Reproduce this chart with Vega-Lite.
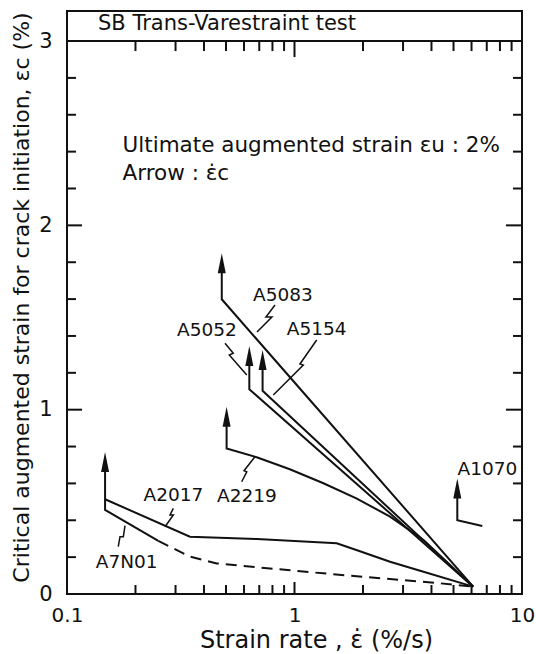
{
  "$schema": "https://vega.github.io/schema/vega-lite/v6.json",
  "width": 455,
  "height": 583,
  "autosize": {"type": "none"},
  "padding": {"left": 67, "top": 11, "right": 14, "bottom": 60},
  "config": {
    "font": "DejaVu Sans",
    "view": {"stroke": "#111", "strokeWidth": 2},
    "axis": {"labelColor": "#111", "titleColor": "#111", "grid": false, "labelFont": "DejaVu Sans", "titleFont": "DejaVu Sans", "titleFontWeight": "normal", "domain": false, "ticks": false, "tickSize": 0}
  },
  "datasets": {
    "curves": [
      {"series": "A5083", "i": 1, "x": 0.479, "y": 1.794},
      {"series": "A5083", "i": 2, "x": 0.479, "y": 1.599},
      {"series": "A5083", "i": 3, "x": 6.1, "y": 0.04},
      {"series": "A5052", "i": 1, "x": 0.633, "y": 1.291},
      {"series": "A5052", "i": 2, "x": 0.633, "y": 1.111},
      {"series": "A5052", "i": 3, "x": 6.1, "y": 0.04},
      {"series": "A5154", "i": 1, "x": 0.724, "y": 1.269},
      {"series": "A5154", "i": 2, "x": 0.724, "y": 1.103},
      {"series": "A5154", "i": 3, "x": 6.1, "y": 0.04},
      {"series": "A2219", "i": 1, "x": 0.503, "y": 0.962},
      {"series": "A2219", "i": 2, "x": 0.503, "y": 0.79},
      {"series": "A2219", "i": 3, "x": 0.682, "y": 0.742},
      {"series": "A2219", "i": 4, "x": 0.954, "y": 0.677},
      {"series": "A2219", "i": 5, "x": 1.34, "y": 0.601},
      {"series": "A2219", "i": 6, "x": 1.87, "y": 0.519},
      {"series": "A2219", "i": 7, "x": 2.63, "y": 0.42},
      {"series": "A2219", "i": 8, "x": 3.69, "y": 0.293},
      {"series": "A2219", "i": 9, "x": 6.1, "y": 0.04},
      {"series": "A2017", "i": 1, "x": 0.147, "y": 0.514},
      {"series": "A2017", "i": 2, "x": 0.347, "y": 0.311},
      {"series": "A2017", "i": 3, "x": 0.684, "y": 0.298},
      {"series": "A2017", "i": 4, "x": 1.533, "y": 0.275},
      {"series": "A2017", "i": 5, "x": 1.87, "y": 0.239},
      {"series": "A2017", "i": 6, "x": 2.63, "y": 0.175},
      {"series": "A2017", "i": 7, "x": 3.69, "y": 0.121},
      {"series": "A2017", "i": 8, "x": 6.1, "y": 0.04},
      {"series": "A7N01", "i": 1, "x": 0.147, "y": 0.716},
      {"series": "A7N01", "i": 2, "x": 0.147, "y": 0.456},
      {"series": "A7N01", "i": 3, "x": 0.252, "y": 0.288},
      {"series": "A1070", "i": 1, "x": 5.195, "y": 0.573},
      {"series": "A1070", "i": 2, "x": 5.195, "y": 0.4},
      {"series": "A1070", "i": 3, "x": 6.69, "y": 0.369}
    ],
    "dashed": [
      {"series": "A7N01", "i": 1, "x": 0.252, "y": 0.288},
      {"series": "A7N01", "i": 2, "x": 0.347, "y": 0.203},
      {"series": "A7N01", "i": 3, "x": 0.455, "y": 0.166},
      {"series": "A7N01", "i": 4, "x": 0.682, "y": 0.145},
      {"series": "A7N01", "i": 5, "x": 1.34, "y": 0.112},
      {"series": "A7N01", "i": 6, "x": 2.63, "y": 0.081},
      {"series": "A7N01", "i": 7, "x": 4.37, "y": 0.058},
      {"series": "A7N01", "i": 8, "x": 6.1, "y": 0.04}
    ],
    "leaders": [
      {"leader": "A5083", "i": 1, "x": 0.821, "y": 1.568},
      {"leader": "A5083", "i": 2, "x": 0.749, "y": 1.503},
      {"leader": "A5083", "i": 3, "x": 0.796, "y": 1.503},
      {"leader": "A5083", "i": 4, "x": 0.684, "y": 1.421},
      {"leader": "A5052", "i": 1, "x": 0.495, "y": 1.36},
      {"leader": "A5052", "i": 2, "x": 0.538, "y": 1.306},
      {"leader": "A5052", "i": 3, "x": 0.517, "y": 1.297},
      {"leader": "A5052", "i": 4, "x": 0.617, "y": 1.188},
      {"leader": "A5154", "i": 1, "x": 1.252, "y": 1.378},
      {"leader": "A5154", "i": 2, "x": 1.057, "y": 1.248},
      {"leader": "A5154", "i": 3, "x": 1.093, "y": 1.242},
      {"leader": "A5154", "i": 4, "x": 0.807, "y": 1.08},
      {"leader": "A2219", "i": 1, "x": 0.586, "y": 0.609},
      {"leader": "A2219", "i": 2, "x": 0.617, "y": 0.663},
      {"leader": "A2219", "i": 3, "x": 0.6, "y": 0.669},
      {"leader": "A2219", "i": 4, "x": 0.67, "y": 0.745},
      {"leader": "A2017", "i": 1, "x": 0.2934, "y": 0.465},
      {"leader": "A2017", "i": 2, "x": 0.2836, "y": 0.429},
      {"leader": "A2017", "i": 3, "x": 0.2934, "y": 0.429},
      {"leader": "A2017", "i": 4, "x": 0.2697, "y": 0.365},
      {"leader": "A7N01", "i": 1, "x": 0.168, "y": 0.257},
      {"leader": "A7N01", "i": 2, "x": 0.171, "y": 0.311},
      {"leader": "A7N01", "i": 3, "x": 0.1769, "y": 0.311},
      {"leader": "A7N01", "i": 4, "x": 0.1799, "y": 0.371}
    ],
    "heads": [
      {"series": "A5083", "x": 0.479, "y": 1.794},
      {"series": "A5052", "x": 0.633, "y": 1.291},
      {"series": "A5154", "x": 0.724, "y": 1.269},
      {"series": "A2219", "x": 0.503, "y": 0.962},
      {"series": "A2017", "x": 0.147, "y": 0.716},
      {"series": "A1070", "x": 5.195, "y": 0.573}
    ],
    "labels": [
      {"text": "A5083", "x": 0.89, "y": 1.622},
      {"text": "A5052", "x": 0.4124, "y": 1.432},
      {"text": "A5154", "x": 1.252, "y": 1.436},
      {"text": "A2219", "x": 0.618, "y": 0.532},
      {"text": "A2017", "x": 0.2934, "y": 0.537},
      {"text": "A7N01", "x": 0.183, "y": 0.175},
      {"text": "A1070", "x": 7.05, "y": 0.678}
    ],
    "notes": [
      {"text": "Ultimate augmented strain εu : 2%", "x": 0.1754, "y": 2.432},
      {"text": "Arrow : ε̇c", "x": 0.1754, "y": 2.28}
    ],
    "heading": [
      {"text": "SB Trans-Varestraint test", "x": 0.1369, "y": 3.092}
    ],
    "xminor": [{"v": 0.2}, {"v": 0.3}, {"v": 0.4}, {"v": 0.5}, {"v": 0.6}, {"v": 0.7}, {"v": 0.8}, {"v": 0.9}, {"v": 2}, {"v": 3}, {"v": 4}, {"v": 5}, {"v": 6}, {"v": 7}, {"v": 8}, {"v": 9}],
    "xmajor": [{"v": 1}],
    "yminor": [{"v": 0.2}, {"v": 0.4}, {"v": 0.6}, {"v": 0.8}, {"v": 1.2}, {"v": 1.4}, {"v": 1.6}, {"v": 1.8}, {"v": 2.2}, {"v": 2.4}, {"v": 2.6}, {"v": 2.8}],
    "ymajor": [{"v": 1}, {"v": 2}]
  },
  "layer": [
    {
      "data": {"name": "curves"},
      "mark": {"type": "line", "color": "#111", "strokeWidth": 2, "strokeJoin": "miter"},
      "encoding": {
        "x": {"field": "x", "type": "quantitative",
          "scale": {"type": "log", "domain": [0.1, 10], "nice": false},
          "axis": {"orient": "bottom", "values": [0.1, 1, 10],
            "labelExpr": "datum.value === 0.1 ? '0.1' : (datum.value === 1 ? '1' : '10')",
            "labelFontSize": 20, "labelPadding": 11, "labelFlush": false, "labelOverlap": false, "labelBound": false,
            "title": "Strain rate , ε̇  (%/s)", "titleFontSize": 24, "titleX": 249, "titleY": 46, "titleBaseline": "middle", "titleAlign": "center"}},
        "y": {"field": "y", "type": "quantitative",
          "scale": {"domain": [0, 3.163], "nice": false, "zero": false},
          "axis": {"orient": "left", "values": [0, 1, 2, 3], "format": "d",
            "labelFontSize": 21, "labelPadding": 15, "labelOverlap": false, "labelBound": false, "labelFlush": false,
            "title": "Critical augmented strain for crack initiation, εc (%)", "titleFontSize": 22,
            "titleX": -46, "titleY": 286, "titleAngle": -90, "titleBaseline": "middle", "titleAlign": "center"}},
        "detail": {"field": "series"},
        "order": {"field": "i", "type": "quantitative"}
      }
    },
    {
      "data": {"name": "dashed"},
      "mark": {"type": "line", "color": "#111", "strokeWidth": 2, "strokeDash": [11, 7]},
      "encoding": {
        "x": {"field": "x", "type": "quantitative"},
        "y": {"field": "y", "type": "quantitative"},
        "detail": {"field": "series"},
        "order": {"field": "i", "type": "quantitative"}
      }
    },
    {
      "data": {"name": "leaders"},
      "mark": {"type": "line", "color": "#111", "strokeWidth": 1.5},
      "encoding": {
        "x": {"field": "x", "type": "quantitative"},
        "y": {"field": "y", "type": "quantitative"},
        "detail": {"field": "leader"},
        "order": {"field": "i", "type": "quantitative"}
      }
    },
    {
      "data": {"name": "heads"},
      "mark": {"type": "point", "shape": "M0,-1L0.4,1L-0.4,1Z", "filled": true, "size": 400, "color": "#111", "opacity": 1},
      "encoding": {
        "x": {"field": "x", "type": "quantitative"},
        "y": {"field": "y", "type": "quantitative"}
      }
    },
    {
      "data": {"values": [{}]},
      "mark": {"type": "rule", "color": "#111", "strokeWidth": 2},
      "encoding": {
        "y": {"datum": 3, "type": "quantitative"}
      }
    },
    {
      "data": {"name": "xminor"},
      "mark": {"type": "rule", "color": "#111", "strokeWidth": 2},
      "encoding": {
        "x": {"field": "v", "type": "quantitative"},
        "y": {"datum": 0, "type": "quantitative"},
        "y2": {"datum": 0.0488}
      }
    },
    {
      "data": {"name": "xminor"},
      "mark": {"type": "rule", "color": "#111", "strokeWidth": 2},
      "encoding": {
        "x": {"field": "v", "type": "quantitative"},
        "y": {"datum": 3, "type": "quantitative"},
        "y2": {"datum": 2.9457}
      }
    },
    {
      "data": {"name": "xmajor"},
      "mark": {"type": "rule", "color": "#111", "strokeWidth": 2},
      "encoding": {
        "x": {"field": "v", "type": "quantitative"},
        "y": {"datum": 0, "type": "quantitative"},
        "y2": {"datum": 0.0651}
      }
    },
    {
      "data": {"name": "xmajor"},
      "mark": {"type": "rule", "color": "#111", "strokeWidth": 2},
      "encoding": {
        "x": {"field": "v", "type": "quantitative"},
        "y": {"datum": 3, "type": "quantitative"},
        "y2": {"datum": 2.913}
      }
    },
    {
      "data": {"name": "yminor"},
      "mark": {"type": "rule", "color": "#111", "strokeWidth": 2},
      "encoding": {
        "y": {"field": "v", "type": "quantitative"},
        "x": {"datum": 0.1, "type": "quantitative"},
        "x2": {"datum": 0.1095}
      }
    },
    {
      "data": {"name": "yminor"},
      "mark": {"type": "rule", "color": "#111", "strokeWidth": 2},
      "encoding": {
        "y": {"field": "v", "type": "quantitative"},
        "x": {"datum": 10, "type": "quantitative"},
        "x2": {"datum": 9.13}
      }
    },
    {
      "data": {"name": "ymajor"},
      "mark": {"type": "rule", "color": "#111", "strokeWidth": 2},
      "encoding": {
        "y": {"field": "v", "type": "quantitative"},
        "x": {"datum": 0.1, "type": "quantitative"},
        "x2": {"datum": 0.1164}
      }
    },
    {
      "data": {"name": "ymajor"},
      "mark": {"type": "rule", "color": "#111", "strokeWidth": 2},
      "encoding": {
        "y": {"field": "v", "type": "quantitative"},
        "x": {"datum": 10, "type": "quantitative"},
        "x2": {"datum": 8.5}
      }
    },
    {
      "data": {"name": "labels"},
      "mark": {"type": "text", "fontSize": 18.5, "color": "#111", "align": "center", "baseline": "middle"},
      "encoding": {
        "x": {"field": "x", "type": "quantitative"},
        "y": {"field": "y", "type": "quantitative"},
        "text": {"field": "text"}
      }
    },
    {
      "data": {"name": "notes"},
      "mark": {"type": "text", "fontSize": 21.5, "color": "#111", "align": "left", "baseline": "middle"},
      "encoding": {
        "x": {"field": "x", "type": "quantitative"},
        "y": {"field": "y", "type": "quantitative"},
        "text": {"field": "text"}
      }
    },
    {
      "data": {"name": "heading"},
      "mark": {"type": "text", "fontSize": 21, "color": "#111", "align": "left", "baseline": "middle"},
      "encoding": {
        "x": {"field": "x", "type": "quantitative"},
        "y": {"field": "y", "type": "quantitative"},
        "text": {"field": "text"}
      }
    }
  ]
}
